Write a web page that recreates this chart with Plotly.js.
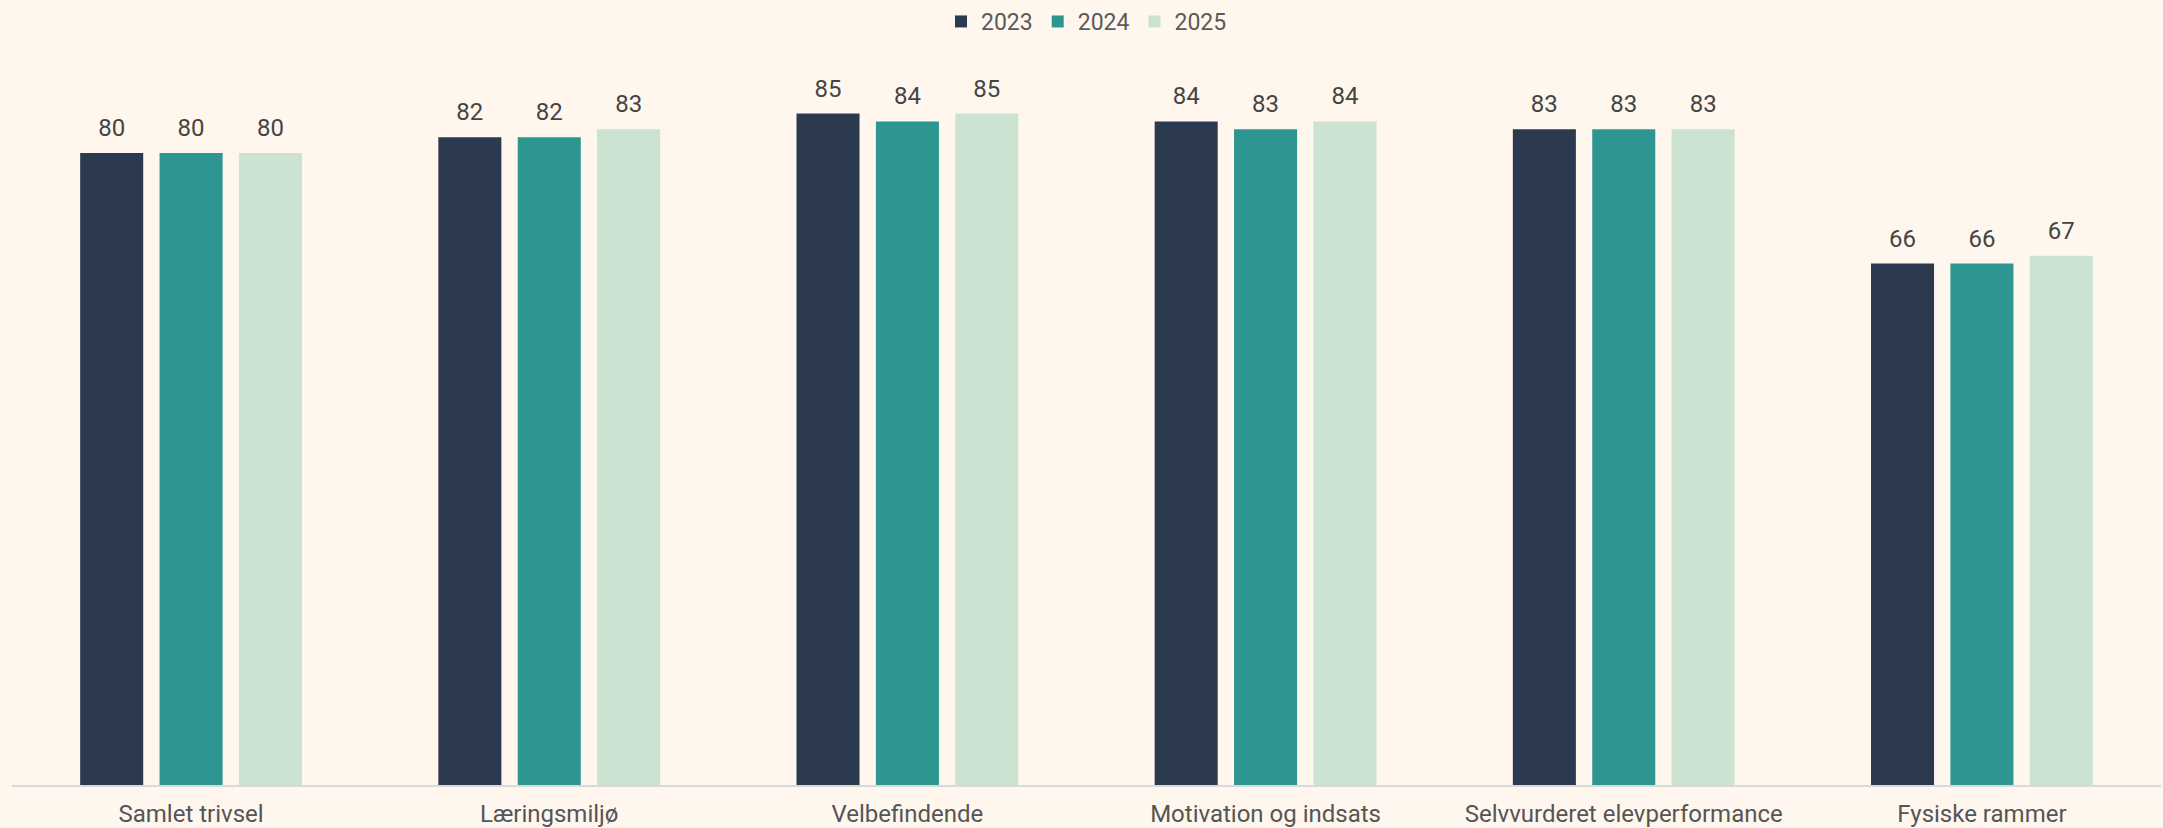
<!DOCTYPE html>
<html>
<head>
<meta charset="utf-8">
<script src="https://cdn.plot.ly/plotly-3.0.1.min.js"></script>
<style>
  html, body { margin: 0; padding: 0; background: #fff7ee; }
  #chart { width: 2163px; height: 828px; }
</style>
</head>
<body>
<div id="chart"></div>
<script>
const categories = ["Samlet trivsel", "Læringsmiljø", "Velbefindende", "Motivation og indsats", "Selvvurderet elevperformance", "Fysiske rammer"];
const years = ["2023", "2024", "2025"];
const values2023 = [80, 82, 85, 84, 83, 66];
const values2024 = [80, 82, 84, 83, 83, 66];
const values2025 = [80, 83, 85, 84, 83, 67];
const colors = ["#2c3a50", "#2e9690", "#cce3d2"];

const series = [values2023, values2024, values2025];
const barTraces = series.map((vals, i) => ({
  type: "bar",
  name: years[i],
  x: categories,
  y: vals,
  marker: { color: colors[i], line: { width: 0 } },
  hoverinfo: "x+y+name"
}));
const labelTraces = series.map((vals, i) => ({
  type: "scatter",
  mode: "markers+text",
  name: years[i] + " label",
  showlegend: false,
  hoverinfo: "skip",
  x: categories,
  y: vals,
  marker: { size: 16, opacity: 0, color: colors[i] },
  text: vals.map(String),
  textposition: "top center",
  cliponaxis: false,
  textfont: { family: "Roboto, sans-serif", size: 24, color: "#444444" }
}));

const layout = {
  width: 2163,
  height: 828,
  paper_bgcolor: "#fff7ee",
  plot_bgcolor: "#fff7ee",
  font: { family: "Roboto, sans-serif", size: 23, color: "#555555" },
  margin: { l: 12, r: 2, t: 74, b: 43, pad: 0 },
  barmode: "group",
  bargap: 0.335,
  bargroupgap: 0.206,
  scattermode: "group",
  scattergap: 0.335,
  showlegend: true,
  legend: {
    orientation: "h",
    x: 0.5,
    xanchor: "center",
    yref: "container",
    y: 1.0,
    yanchor: "top",
    itemwidth: 30,
    font: { family: "Roboto, sans-serif", size: 23, color: "#5a5a5a" },
    bgcolor: "rgba(0,0,0,0)"
  },
  xaxis: {
    type: "category",
    showline: true,
    linecolor: "#d9d9d9",
    linewidth: 2,
    showgrid: false,
    zeroline: false,
    ticks: "outside",
    ticklen: 6,
    tickcolor: "rgba(0,0,0,0)",
    tickfont: { family: "Roboto, sans-serif", size: 24, color: "#555555" }
  },
  yaxis: {
    range: [0, 90],
    visible: false,
    showgrid: false,
    zeroline: false
  }
};

Plotly.newPlot("chart", barTraces.concat(labelTraces), layout, { displayModeBar: false });
</script>
</body>
</html>
